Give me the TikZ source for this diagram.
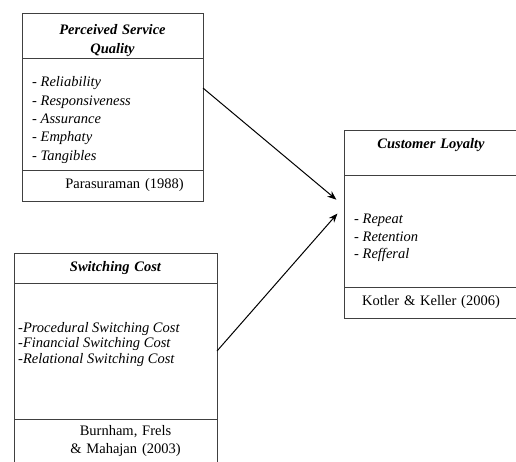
\documentclass[tikz,border=0pt]{standalone}
\usepackage{fontspec}
\setmainfont{Liberation Serif}
\usepackage{tikz}
\usetikzlibrary{arrows.meta,positioning}

\begin{document}
\begin{tikzpicture}[x=1pt,y=-1pt,
  part/.style={draw=black!75,line width=.6pt,inner ysep=0pt,outer sep=0pt,
    font=\fontsize{14.5}{18}\selectfont},
  head/.style={part,align=center,inner xsep=0pt,
    font=\fontsize{14.5}{19}\selectfont\bfseries\itshape},
  items/.style={align=left,inner sep=0pt,anchor=west,
    font=\fontsize{14.5}{18.3}\selectfont\itshape},
  cite/.style={part,align=center,inner xsep=0pt},
  to/.style={-{Stealth[length=9pt,width=7pt]},line width=1pt,shorten >=10pt}]

  \useasboundingbox (0,0) rectangle (516,461);

  % perceived service quality
  \node[head,anchor=north west,text width=181pt,minimum height=45pt]
    (pqhead) at (22,13) {\rule{0pt}{20pt}Perceived Service\\Quality};
  \node[part,below=0pt of pqhead,minimum width=181pt,minimum height=112pt] (pqbody) {};
  \node[items] (pqlist) at ([xshift=10pt,yshift=-6pt]pqbody.west)
    {- Reliability\\- Responsiveness\\- Assurance\\- Emphaty\\- Tangibles};
  \node[cite,below=0pt of pqbody,text width=181pt,minimum height=31pt]
    (pqcite) {\hspace*{24pt}Parasuraman (1988)};

  % switching cost
  \node[head,anchor=north west,text width=203pt,minimum height=30pt]
    (schead) at (14,253) {Switching Cost};
  \node[part,below=0pt of schead,minimum width=203pt,minimum height=136pt] (scbody) {};
  \node[items,font=\fontsize{14.5}{15.5}\selectfont\itshape] (sclist)
    at ([xshift=4pt,yshift=6.5pt]scbody.west)
    {-Procedural Switching Cost\\-Financial Switching Cost\\-Relational Switching Cost};
  \node[cite,below=0pt of scbody,text width=203pt,minimum height=44pt]
    (sccite) {\hspace*{20pt}Burnham, Frels\\\hspace*{20pt}\& Mahajan (2003)};

  % customer loyalty
  \node[head,anchor=north west,text width=174pt,minimum height=45pt,
    font=\fontsize{14.5}{18}\selectfont\bfseries\itshape]
    (clhead) at (344,130) {Customer Loyalty\\\mbox{}};
  \node[part,below=0pt of clhead,minimum width=174pt,minimum height=112pt] (clbody) {};
  \node[items,font=\fontsize{14.5}{17.5}\selectfont\itshape] (cllist)
    at ([xshift=10pt,yshift=-7pt]clbody.west)
    {- Repeat\\- Retention\\- Refferal};
  \node[cite,below=0pt of clbody,text width=174pt,minimum height=31pt]
    (clcite) {Kotler \& Keller (2006)};

  \draw[to] (pqbody.16) -- (clbody.164);
  \draw[to] (scbody.east) -- (clbody.164);
\end{tikzpicture}
\end{document}
